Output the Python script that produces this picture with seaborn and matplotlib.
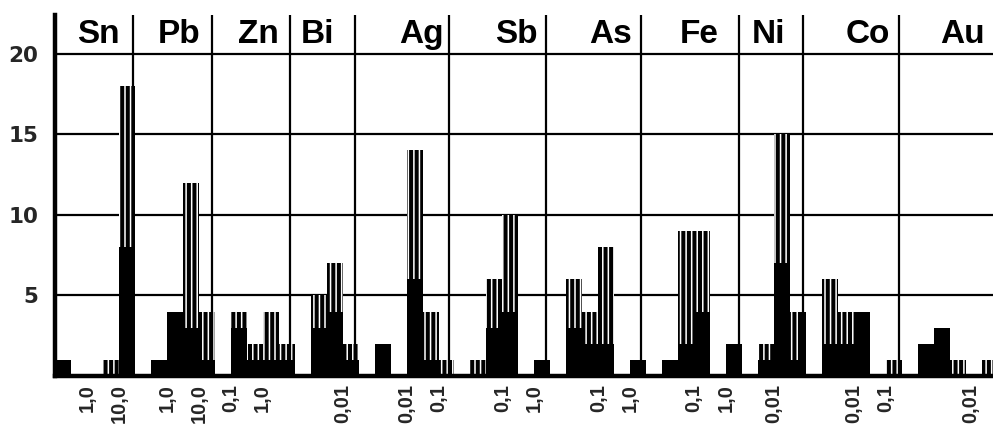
import numpy as np
import pandas as pd
import matplotlib
matplotlib.use("Agg")
import matplotlib.pyplot as plt
import seaborn as sns

# ---------------- data ----------------
elements = ["Sn", "Pb", "Zn", "Bi", "Ag", "Sb", "As", "Fe", "Ni", "Co", "Au"]

# one entry per bar: element, concentration-class index, solid count, total (solid + striped)
bar_element = (["Sn"] * 3 + ["Pb"] * 4 + ["Zn"] * 4 + ["Bi"] * 3 + ["Ag"] * 4 + ["Sb"] * 4
               + ["As"] * 4 + ["Fe"] * 4 + ["Ni"] * 3 + ["Co"] * 4 + ["Au"] * 4)
bar_bin = [0, 3, 4, 6, 7, 8, 9, 11, 12, 13, 14, 16, 17, 18, 20, 22, 23, 24,
           26, 27, 28, 30, 32, 33, 34, 36, 38, 39, 40, 42, 44, 45, 46,
           48, 49, 50, 52, 54, 55, 56, 58]
bar_solid = [1, 0, 8, 1, 4, 3, 1, 3, 1, 1, 1, 3, 4, 1, 2, 6, 1, 0,
             0, 3, 4, 1, 3, 2, 2, 1, 1, 2, 4, 2, 1, 7, 1,
             2, 2, 4, 0, 2, 3, 0, 0]
bar_total = [1, 1, 18, 1, 4, 12, 4, 4, 2, 4, 2, 5, 7, 2, 2, 14, 4, 1,
             1, 6, 10, 1, 6, 4, 8, 1, 1, 9, 9, 2, 2, 15, 4,
             6, 4, 4, 1, 2, 3, 1, 1]

# boundaries between element panels (class-index units)
panel_edges = [4.88, 9.82, 14.7, 18.77, 24.66, 30.73, 36.67, 42.8, 46.8, 52.8]

# concentration tick labels
tick_pos = [2, 4, 7, 9, 11, 13, 18, 22, 24, 28, 30, 34, 36, 40, 42, 45, 50, 52, 57.3]
tick_labels = ["1,0", "10,0", "1,0", "10,0", "0,1", "1,0", "0,01", "0,01", "0,1",
               "0,1", "1,0", "0,1", "1,0", "0,1", "1,0", "0,01", "0,01", "0,1", "0,01"]

y_ticks = [5, 10, 15, 20]

# ---------------- layout ----------------
label_right = [4.07, 9.07, 14.0, 17.5, 24.3, 30.2, 36.1, 41.5, 45.7, 52.25, 58.2]
x_max = 58.7
y_top = 22.4

df = pd.DataFrame({"element": bar_element, "bin": bar_bin,
                   "solid": bar_solid, "total": bar_total})
df["center"] = df["bin"] + 0.5

sns.set_theme(style="white")
plt.rcParams["font.family"] = ["DejaVu Sans"]
plt.rcParams["hatch.linewidth"] = 1.1

fig = plt.figure(figsize=(9.93, 4.25), dpi=100)
ax = fig.add_axes([55 / 993, 49 / 425, 1 - 55 / 993, 361 / 425])

# striped (total) bars
n0 = len(ax.patches)
sns.histplot(data=df, x="center", weights="total", binwidth=1, binrange=(0, 59),
             color="black", alpha=1, linewidth=0, ax=ax, zorder=3)
for p in ax.patches[n0:]:
    p.set_facecolor("black")
    p.set_edgecolor("white")
    p.set_linewidth(0)
    p.set_hatch("|||")

# solid part
n1 = len(ax.patches)
sns.histplot(data=df, x="center", weights="solid", binwidth=1, binrange=(0, 59),
             color="black", alpha=1, linewidth=0, ax=ax, zorder=4)
for p in ax.patches[n1:]:
    p.set_facecolor("black")
    p.set_edgecolor("black")
    p.set_linewidth(0)

ax.set_xlim(0, x_max)
ax.set_ylim(0, y_top)

# grid lines and panel dividers
for yv in y_ticks:
    ax.axhline(yv, color="black", lw=1.6, zorder=2)
ax.vlines(panel_edges, 0, y_top, color="black", lw=1.6, zorder=5)

# spines
for s in ["top", "right"]:
    ax.spines[s].set_visible(False)
for s in ["left", "bottom"]:
    ax.spines[s].set_linewidth(3.2)
    ax.spines[s].set_color("black")
    ax.spines[s].set_zorder(6)

# ticks
ax.set_yticks(y_ticks)
ax.set_yticklabels([str(v) for v in y_ticks], fontsize=15.5, fontweight="bold",
                   family="DejaVu Sans")
ax.tick_params(axis="y", length=0, pad=12)
ax.set_xticks(tick_pos)
ax.set_xticklabels(tick_labels, rotation=90, fontsize=14.5, fontweight="bold",
                   family="Liberation Sans")
ax.tick_params(axis="x", length=0, pad=6)
ax.set_xlabel("")
ax.set_ylabel("")
ax.grid(False)

# element names in the header row
for name, xr in zip(elements, label_right):
    ax.text(xr, 20.65, name, ha="right", va="baseline", fontsize=24,
            fontweight="bold", family="Liberation Sans", color="black")

fig.savefig("out.png", dpi=100)
